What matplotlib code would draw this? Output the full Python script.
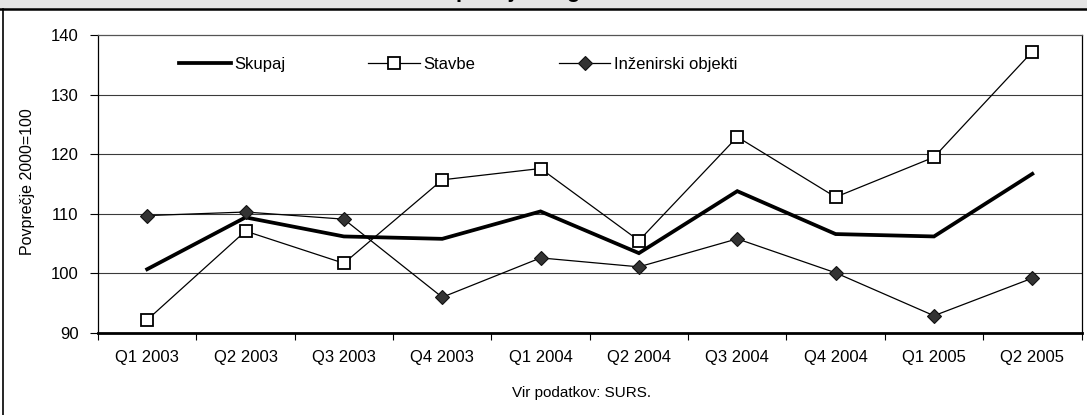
import matplotlib
matplotlib.use("Agg")
import matplotlib.pyplot as plt
from matplotlib.lines import Line2D
from matplotlib.patches import Rectangle

plt.rcParams['font.family'] = ['Liberation Sans', 'DejaVu Sans']

categories = ["Q1 2003", "Q2 2003", "Q3 2003", "Q4 2003", "Q1 2004",
              "Q2 2004", "Q3 2004", "Q4 2004", "Q1 2005", "Q2 2005"]
skupaj = [100.7, 109.4, 106.2, 105.8, 110.4, 103.4, 113.8, 106.6, 106.2, 116.7]
stavbe = [92.2, 107.1, 101.7, 115.7, 117.6, 105.5, 122.9, 112.8, 119.5, 137.2]
inzenirski = [109.7, 110.3, 109.1, 96.0, 102.6, 101.1, 105.8, 100.1, 92.9, 99.2]
y_ticks = [90, 100, 110, 120, 130, 140]
series_names = ["Skupaj", "Stavbe", "Inženirski objekti"]
title = "Indeksi vrednosti opravljenih gradbenih del"
y_label = "Povprečje 2000=100"
source = "Vir podatkov: SURS."

W, H = 1087, 415
fig = plt.figure(figsize=(W / 100, H / 100), dpi=100)
fig.patch.set_facecolor("white")

# header band and border
fig.patches.append(Rectangle((0, (H - 9.5) / H), 1, 9.5 / H, transform=fig.transFigure,
                             facecolor="#e4e4e4", edgecolor="none", zorder=0))
fig.lines.append(Line2D([0, 1], [(H - 9.5) / H] * 2, transform=fig.transFigure,
                        color="black", lw=1.8))
fig.lines.append(Line2D([3 / W, 3 / W], [0, (H - 9.5) / H], transform=fig.transFigure,
                        color="black", lw=1.2))
fig.text(254 / W, 1.0 + 2.5 / H, title, ha="left", va="baseline", fontsize=16,
         fontweight="bold")

left, right, top, bottom = 98, 1081.5, 35, 333
ax = fig.add_axes([left / W, (H - bottom) / H, (right - left) / W, (bottom - top) / H])

x = list(range(len(categories)))
ax.plot(x, skupaj, color="black", lw=2.7, solid_joinstyle="miter", label=series_names[0], zorder=3)
ax.plot(x, stavbe, color="black", lw=0.9, marker="s", markersize=8.5,
        markerfacecolor="white", markeredgecolor="black", markeredgewidth=1.3,
        label=series_names[1], zorder=4)
ax.plot(x, inzenirski, color="black", lw=0.9, marker="D", markersize=7,
        markerfacecolor="#333333", markeredgecolor="#111111", markeredgewidth=0.8,
        label=series_names[2], zorder=4)

ax.set_xlim(-0.5, len(categories) - 0.5)
ax.set_ylim(90, 140)
ax.set_yticks(y_ticks)
ax.set_yticklabels([str(v) for v in y_ticks], fontsize=12)
for v in y_ticks[1:-1]:
    ax.axhline(v, color="#3a3a3a", lw=0.8, zorder=1)

ax.set_xticks(x)
ax.set_xticklabels(categories, fontsize=12)
ax.set_xticks([i - 0.5 for i in range(len(categories) + 1)], minor=True)
ax.tick_params(axis="x", which="major", length=0, pad=12)
ax.tick_params(axis="x", which="minor", length=5, width=0.8, direction="out")
ax.tick_params(axis="y", which="major", length=6, width=0.8, direction="out", pad=8)

ax.spines["bottom"].set_linewidth(2.0)
ax.spines["left"].set_linewidth(0.9)
ax.spines["top"].set_linewidth(0.9)
ax.spines["top"].set_color("#555555")
ax.spines["right"].set_linewidth(0.9)

fig.text(28 / W, (H - 182) / H, y_label, rotation=90, ha="center", va="center",
         fontsize=11.5)
fig.text(582 / W, (H - 393) / H, source, ha="center", va="center", fontsize=11)

leg = ax.legend(loc="upper left", bbox_to_anchor=((179 - left) / (right - left), 1 - 22 / (bottom - top)),
                ncol=3, frameon=False, fontsize=12, handlelength=3.1,
                handletextpad=0.2, columnspacing=5.0, borderaxespad=0, borderpad=0)

fig.savefig("out.png", dpi=100)
